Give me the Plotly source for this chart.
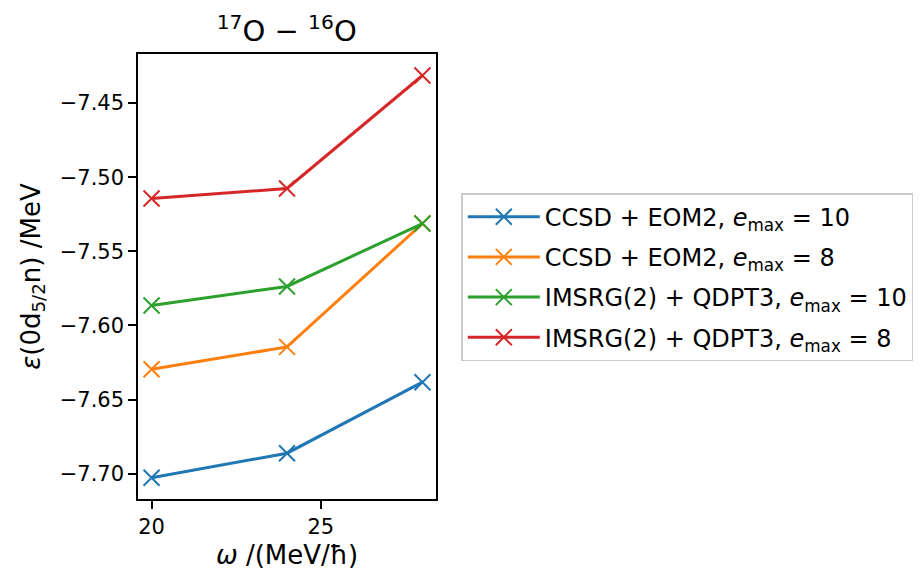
import plotly.graph_objects as go

omega = [20, 24, 28]
ccsd_e10 = [-7.7028, -7.6862, -7.6383]
ccsd_e8 = [-7.6296, -7.6145, -7.5313]
imsrg_e10 = [-7.5866, -7.5737, -7.5313]
imsrg_e8 = [-7.5144, -7.5076, -7.4314]

names = [
    "CCSD + EOM2, <i>e</i><sub>max</sub> = 10",
    "CCSD + EOM2, <i>e</i><sub>max</sub> = 8",
    "IMSRG(2) + QDPT3, <i>e</i><sub>max</sub> = 10",
    "IMSRG(2) + QDPT3, <i>e</i><sub>max</sub> = 8",
]
series = [ccsd_e10, ccsd_e8, imsrg_e10, imsrg_e8]
colors = ["#1f77b4", "#ff7f0e", "#2ca02c", "#d62728"]

FONT = "DejaVu Sans"
fig = go.Figure()
for i, (n, s, c) in enumerate(zip(names, series, colors)):
    fig.add_trace(go.Scatter(
        x=omega, y=s, name=n, mode="lines+markers",
        legendgroup=f"g{i}",
        line=dict(color=c, width=3),
        marker=dict(symbol="x-thin", size=16, color=c, line=dict(color=c, width=2)),
    ))

L, R, T, B = 137.7, 435.7, 54.3, 499.0
fig.update_layout(
    width=920, height=577,
    margin=dict(l=L, r=920 - R, t=T, b=577 - B, autoexpand=False),
    plot_bgcolor="white", paper_bgcolor="white",
    font=dict(family=FONT, size=21, color="black"),
    title=dict(text="<sup>17</sup>O − <sup>16</sup>O", x=(L + R) / 2 / 920, xanchor="center",
               y=1 - 31 / 577, yanchor="middle", font=dict(size=29)),
    showlegend=True,
    legend=dict(x=(461 - L) / (R - L), y=(B - 193.3) / (B - T), xanchor="left", yanchor="top",
                bordercolor="#cccccc", borderwidth=1.5, bgcolor="white",
                tracegroupgap=6, font=dict(size=24), itemwidth=72),
)
fig.update_xaxes(range=[19.6, 28.4], tickvals=[20, 25], ticktext=["20", "25"],
                 showline=True, linecolor="black", linewidth=1.5, mirror=True,
                 ticks="outside", ticklen=8, tickwidth=1.5, tickcolor="black",
                 showgrid=False, zeroline=False,
                 title=dict(text="<i>ω</i> /(MeV/ħ)", standoff=8, font=dict(size=26)))
fig.update_yaxes(range=[-7.7171, -7.4169], tickvals=[-7.70, -7.65, -7.60, -7.55, -7.50, -7.45],
                 ticktext=["−7.70", "−7.65", "−7.60", "−7.55", "−7.50", "−7.45"],
                 showline=True, linecolor="black", linewidth=1.5, mirror=True,
                 ticks="outside", ticklen=8, tickwidth=1.5, tickcolor="black",
                 showgrid=False, zeroline=False,
                 title=dict(text="<i>ε</i>(0d<sub>5/2</sub>n) /MeV", standoff=12, font=dict(size=26)))
fig.write_html("out.html")
